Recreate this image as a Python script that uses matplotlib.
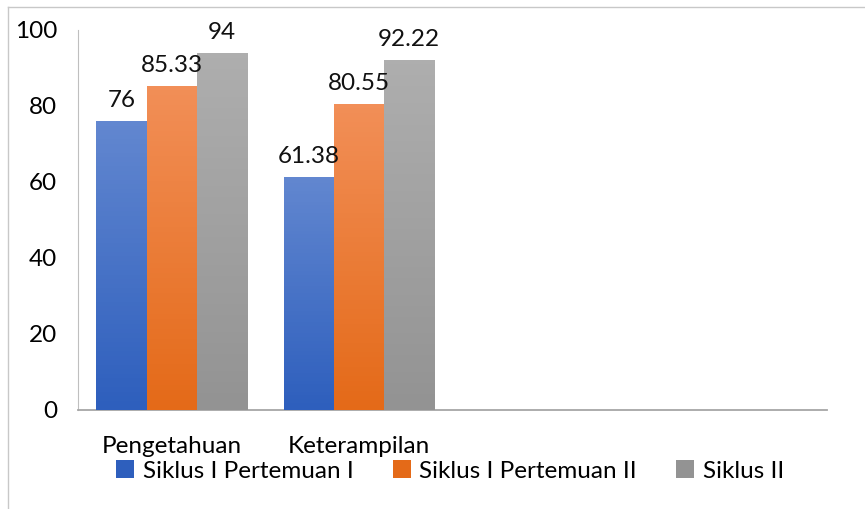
import numpy as np
import matplotlib
matplotlib.use("Agg")
import matplotlib.pyplot as plt
from matplotlib.lines import Line2D

# data
categories = ["Pengetahuan", "Keterampilan", "", ""]
series_names = ["Siklus I Pertemuan I", "Siklus I Pertemuan II", "Siklus II"]
siklus1_p1 = [76, 61.38]
siklus1_p2 = [85.33, 80.55]
siklus2 = [94, 92.22]
value_labels = [["76", "61.38"], ["85.33", "80.55"], ["94", "92.22"]]

# top / bottom colours of the gradient fill
grad_colors = [("#6287D0", "#2E5FBD"), ("#F28F58", "#E46A18"), ("#AEAEAE", "#939393")]

plt.rcParams["font.family"] = ["Lato", "DejaVu Sans"]
fs = 17.5

fig = plt.figure(figsize=(8.65, 5.09), dpi=100)
ax = fig.add_axes([78 / 865, 99 / 509, 749 / 865, 380 / 509])

# thin outer frame of the chart area (cut off at right and bottom)
fig.add_artist(Line2D([8 / 865, 8 / 865], [0, 502 / 509], transform=fig.transFigure,
                      color="#C8C8C8", linewidth=1.0))
fig.add_artist(Line2D([8 / 865, 1], [502 / 509, 502 / 509], transform=fig.transFigure,
                      color="#C8C8C8", linewidth=1.0))

n_cat = len(categories)
x = np.arange(n_cat)
bar_w = (1 - 37 / 188) / 3
all_series = [siklus1_p1, siklus1_p2, siklus2]

for i, vals in enumerate(all_series):
    pos = x[:len(vals)] + (i - 1) * bar_w
    bars = ax.bar(pos, vals, width=bar_w, color=grad_colors[i][1], label=series_names[i],
                  edgecolor="none", zorder=2)
    top_c = np.array(matplotlib.colors.to_rgb(grad_colors[i][0]))
    bot_c = np.array(matplotlib.colors.to_rgb(grad_colors[i][1]))
    for b, lab in zip(bars, value_labels[i]):
        x0, w, h = b.get_x(), b.get_width(), b.get_height()
        t = np.linspace(1, 0, 64)[:, None]
        img = (top_c * t + bot_c * (1 - t))[:, None, :]
        im = ax.imshow(img, extent=[x0, x0 + w, 0, h], aspect="auto", zorder=3, origin="upper")
        im.set_clip_path(b)
        ax.text(x0 + w / 2, h + 2.6, lab, ha="center", va="bottom", fontsize=fs,
                color="#111111", zorder=10)

ax.set_xlim(-0.5, n_cat - 0.5)
ax.set_ylim(0, 100)
ax.set_yticks(np.arange(0, 101, 20))
ax.set_xticks(x[:2])
ax.set_xticklabels(categories[:2])
ax.tick_params(axis="y", length=0, pad=15, labelsize=fs)
ax.tick_params(axis="x", length=0, pad=19, labelsize=fs)
for s in ["top", "right"]:
    ax.spines[s].set_visible(False)
ax.spines["left"].set_color("#BFBFBF")
ax.spines["bottom"].set_color("#A6A6A6")
ax.spines["bottom"].set_linewidth(1.3)

leg = fig.legend(loc="center", bbox_to_anchor=(450 / 865, 1 - 471 / 509), ncol=3, frameon=False,
                 fontsize=fs, handlelength=0.75, handleheight=0.75, handletextpad=0.35,
                 columnspacing=1.6)

fig.savefig("out.png", dpi=100)
